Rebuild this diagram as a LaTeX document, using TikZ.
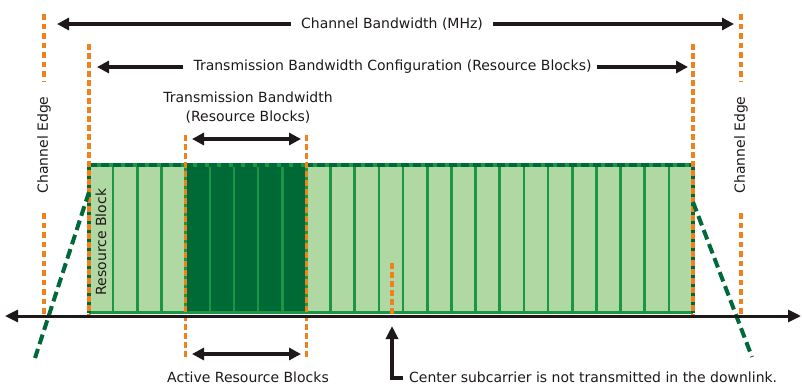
\documentclass[tikz,border=0pt]{standalone}
\usepackage{fontspec}
\setmainfont{DejaVu Sans}
\usetikzlibrary{arrows.meta}
\definecolor{edgeorange}{RGB}{240,130,30}
\definecolor{rblight}{RGB}{176,216,162}
\definecolor{rbdark}{RGB}{0,106,55}
\definecolor{rbline}{RGB}{28,150,68}
\definecolor{maskgreen}{RGB}{0,105,58}
\definecolor{inkblack}{RGB}{30,25,25}
\begin{document}
\begin{tikzpicture}[x=1pt,y=-1pt,
  lbl/.style={font=\fontsize{14}{16}\selectfont, text=inkblack, inner sep=0pt},
  edgedash/.style={draw=edgeorange, line width=3.5pt, dash pattern=on 5.5pt off 3.5pt},
  maskdash/.style={draw=maskgreen, line width=4pt, dash pattern=on 10pt off 5pt},
  dimarrow/.style={draw=inkblack, line width=3.5pt, -{Triangle[length=12pt,width=12pt]}},
  dimboth/.style={draw=inkblack, line width=3.5pt, {Triangle[length=12pt,width=12pt]}-{Triangle[length=12pt,width=12pt]}},
  rbdiv/.style={draw=rbline, line width=2.6pt},
]
\useasboundingbox (0,0) rectangle (802,384);

% key coordinates
\coordinate (bandL) at (89,165);
\coordinate (bandR) at (693,313);
\coordinate (actL) at (185.64,165);
\coordinate (actR) at (306.44,313);

% resource block band
\fill[rblight] (bandL) rectangle (bandR);
\fill[rbdark] (actL) rectangle (actR);
\foreach \i in {1,...,24}
  \draw[rbdiv] ({89+\i*24.16},165) -- ({89+\i*24.16},313);
\draw[rbline, line width=2.5pt] (89,312.5) -- (693,312.5);
\draw[rbline, line width=4pt] (89,165) -- (693,165);
\draw[draw=maskgreen, line width=4pt, dash pattern=on 8pt off 4pt] (89,165) -- (693,165);

% band edges: green under orange dashes
\draw[maskgreen, line width=3.5pt] (89,165) -- (89,313);
\draw[maskgreen, line width=3.5pt] (693,165) -- (693,313);

% orange edge markers
\draw[edgeorange, line width=3.5pt, dash pattern=on 5.5pt off 4pt] (44,14) -- (44,82);
\draw[edgeorange, line width=3.5pt, dash pattern=on 5.5pt off 4pt] (44,213) -- (44,316);
\draw[edgeorange, line width=3.5pt, dash pattern=on 5.5pt off 4pt] (741,14) -- (741,82);
\draw[edgeorange, line width=3.5pt, dash pattern=on 5.5pt off 4pt] (741,213) -- (741,316);
\draw[edgedash] (89,44) -- (89,316);
\draw[edgedash] (693,44) -- (693,316);
\draw[edgedash] (185.64,135) -- (185.64,357);
\draw[edgedash] (306.44,135) -- (306.44,357);
\draw[edgedash] (392,263) -- (392,316);

% spectrum mask slopes
\draw[maskdash] (89,192) -- (35,358);
\draw[maskdash] (693,202) -- (752,357);

% frequency axis
\coordinate (axL) at (5,316);
\coordinate (axR) at (801,316);
\draw[inkblack, line width=3pt, {Triangle[length=13pt,width=12pt]}-{Triangle[length=13pt,width=12pt]}] (axL) -- (axR);

% labels
\node[lbl] (cbw) at (392,24) {Channel Bandwidth (MHz)};
\node[lbl] (tbc) at (392.5,67) {Transmission Bandwidth Configuration (Resource Blocks)};
\node[lbl, align=center, font=\fontsize{14}{19}\selectfont] (tbw) at (248,108) {Transmission Bandwidth\\(Resource Blocks)};
\node[lbl, anchor=base, text depth=0pt] (arb) at (248,382) {Active Resource Blocks};
\node[lbl, anchor=base west, text depth=0pt] (csc) at (409,382) {Center subcarrier is not transmitted in the downlink.};
\node[lbl, rotate=90] (ceL) at (44,145) {Channel Edge};
\node[lbl, rotate=90] (ceR) at (741,145) {Channel Edge};
\node[lbl, rotate=90] (rbk) at (101,242) {Resource Block};

% dimension arrows
\coordinate (cbwL) at (57,24);
\coordinate (cbwR) at (734,24);
\draw[dimarrow] ([xshift=-10pt]cbw.west) -- (cbwL);
\draw[dimarrow] ([xshift=10pt]cbw.east) -- (cbwR);
\coordinate (tbcL) at (97,67);
\coordinate (tbcR) at (688,67);
\draw[dimarrow] ([xshift=-10pt]tbc.west) -- (tbcL);
\draw[dimarrow] ([xshift=5pt]tbc.east) -- (tbcR);
\coordinate (tbwL) at (192,139);
\coordinate (tbwR) at (301,139);
\draw[dimboth] (tbwL) -- (tbwR);
\coordinate (arbL) at (192,354);
\coordinate (arbR) at (301,354);
\draw[dimboth] (arbL) -- (arbR);

% center subcarrier pointer
\coordinate (csTip) at (392,326);
\coordinate (csFoot) at (403,378);
\draw[draw=inkblack, line width=3.5pt, -{Triangle[length=13pt,width=12pt]}] (csFoot) -| (csTip);
\end{tikzpicture}
\end{document}
